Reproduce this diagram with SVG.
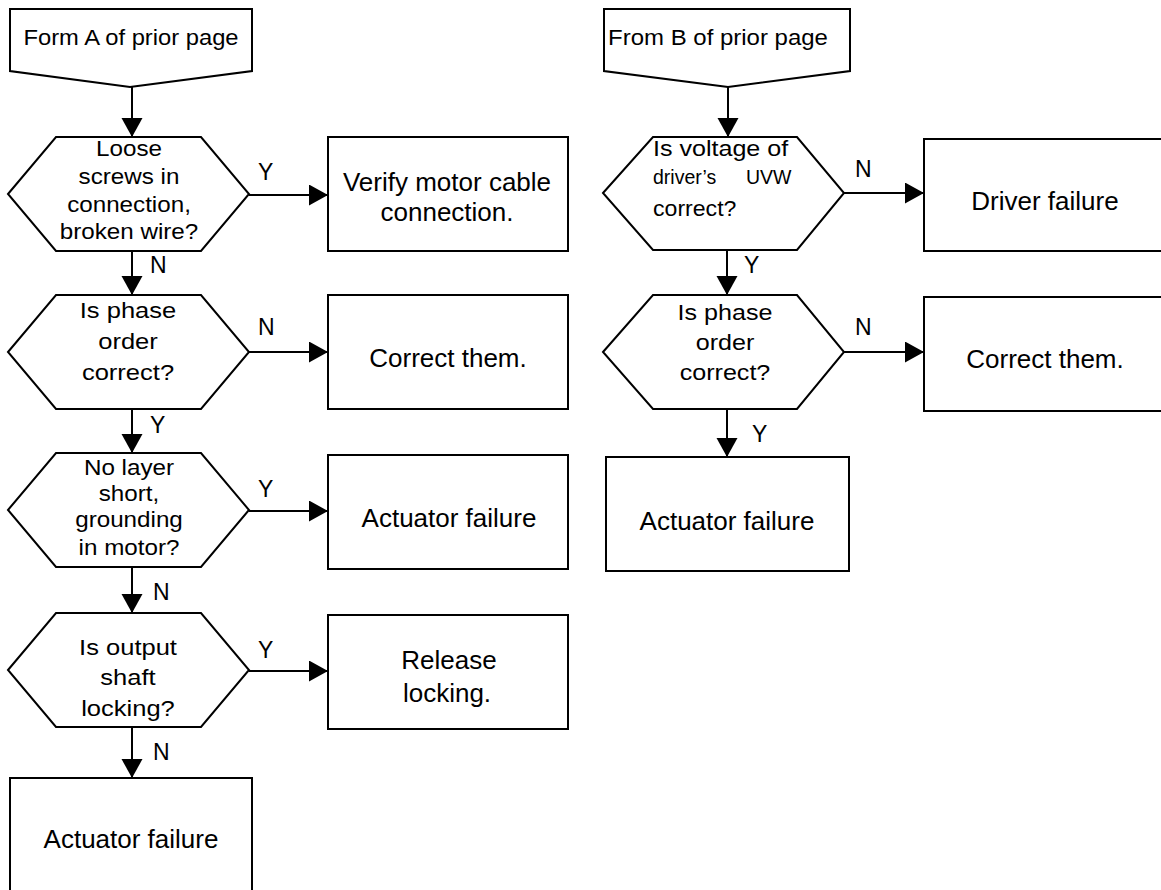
<svg xmlns="http://www.w3.org/2000/svg" width="1161" height="890" viewBox="0 0 1161 890">
<style>
.shape{fill:#fff;stroke:#000;stroke-width:2}
.conn{fill:none;stroke:#000;stroke-width:2}
.t{font-family:"Liberation Sans",Arial,sans-serif;fill:#000}
.h{font-size:22px;text-anchor:middle}
.hl{font-size:22px;text-anchor:start}
.b{font-size:26px;text-anchor:middle}
.lab{font-size:23px}
.sm{font-size:19.5px}
</style>
<defs>
<marker id="arr" markerUnits="userSpaceOnUse" markerWidth="20" markerHeight="22" refX="19" refY="10.5" orient="auto">
<path d="M0,0 L19,10.5 L0,21 z" fill="#000"/>
</marker>
</defs>
<rect width="1161" height="890" fill="#fff"/>

<g id="connectors">
<line class="conn" x1="132" y1="87" x2="132" y2="137" marker-end="url(#arr)"/>
<line class="conn" x1="132" y1="251" x2="132" y2="295" marker-end="url(#arr)"/>
<line class="conn" x1="132" y1="409" x2="132" y2="453" marker-end="url(#arr)"/>
<line class="conn" x1="132" y1="567" x2="132" y2="613" marker-end="url(#arr)"/>
<line class="conn" x1="132" y1="727" x2="132" y2="778" marker-end="url(#arr)"/>
<line class="conn" x1="249" y1="195" x2="328" y2="195" marker-end="url(#arr)"/>
<line class="conn" x1="249" y1="352" x2="328" y2="352" marker-end="url(#arr)"/>
<line class="conn" x1="249" y1="511" x2="328" y2="511" marker-end="url(#arr)"/>
<line class="conn" x1="249" y1="671" x2="328" y2="671" marker-end="url(#arr)"/>
<line class="conn" x1="728" y1="87" x2="728" y2="137" marker-end="url(#arr)"/>
<line class="conn" x1="727" y1="250" x2="727" y2="295" marker-end="url(#arr)"/>
<line class="conn" x1="727" y1="409" x2="727" y2="457" marker-end="url(#arr)"/>
<line class="conn" x1="844" y1="193" x2="924" y2="193" marker-end="url(#arr)"/>
<line class="conn" x1="844" y1="352" x2="924" y2="352" marker-end="url(#arr)"/>
<g class="t lab">
<text x="258" y="180">Y</text>
<text x="258" y="335">N</text>
<text x="258" y="497">Y</text>
<text x="258" y="658">Y</text>
<text x="150" y="273">N</text>
<text x="150" y="433">Y</text>
<text x="153" y="600">N</text>
<text x="153" y="760">N</text>
<text x="855" y="177">N</text>
<text x="855" y="335">N</text>
<text x="744" y="273">Y</text>
<text x="752" y="442">Y</text>
</g>
</g>

<g id="offpageA">
<polygon class="shape" points="10,9 252,9 252,71 130,87 10,71"/>
<text class="t h" transform="translate(131,0) scale(1.08,1)" x="0" y="45">Form A of prior page</text>
</g>

<g id="offpageB">
<polygon class="shape" points="604,9 850,9 850,71 728,87 604,71"/>
<text class="t h" transform="translate(718,0) scale(1.09,1)" x="0" y="45">From B of prior page</text>
</g>

<g id="dec1">
<polygon class="shape" points="8,194 56,137 201,137 249,194 201,251 56,251"/>
<text class="t h" transform="translate(129,0) scale(1.1,1)"><tspan x="0" y="156">Loose</tspan><tspan x="0" y="184">screws in</tspan><tspan x="0" y="212">connection,</tspan><tspan x="0" y="239">broken wire?</tspan></text>
</g>

<g id="box1">
<rect class="shape" x="328" y="137" width="240" height="114"/>
<text class="t b"><tspan x="447" y="191">Verify motor cable</tspan><tspan x="447" y="221">connection.</tspan></text>
</g>

<g id="dec2">
<polygon class="shape" points="8,352 56,295 201,295 249,352 201,409 56,409"/>
<text class="t h" transform="translate(128,0) scale(1.16,1)"><tspan x="0" y="318">Is phase</tspan><tspan x="0" y="349">order</tspan><tspan x="0" y="380">correct?</tspan></text>
</g>

<g id="box2">
<rect class="shape" x="328" y="295" width="240" height="114"/>
<text class="t b" x="448" y="367">Correct them.</text>
</g>

<g id="dec3">
<polygon class="shape" points="8,510 56,453 201,453 249,510 201,567 56,567"/>
<text class="t h" transform="translate(129,0) scale(1.1,1)"><tspan x="0" y="475">No layer</tspan><tspan x="0" y="501">short,</tspan><tspan x="0" y="527">grounding</tspan><tspan x="0" y="555">in motor?</tspan></text>
</g>

<g id="box3">
<rect class="shape" x="328" y="455" width="240" height="114"/>
<text class="t b" x="449" y="527">Actuator failure</text>
</g>

<g id="dec4">
<polygon class="shape" points="8,670 56,613 201,613 249,670 201,727 56,727"/>
<text class="t h" transform="translate(128,0) scale(1.16,1)"><tspan x="0" y="655">Is output</tspan><tspan x="0" y="685">shaft</tspan><tspan x="0" y="716">locking?</tspan></text>
</g>

<g id="box4">
<rect class="shape" x="328" y="615" width="240" height="114"/>
<text class="t b"><tspan x="449" y="669">Release</tspan><tspan x="447" y="702">locking.</tspan></text>
</g>

<g id="box5">
<rect class="shape" x="10" y="778" width="242" height="130"/>
<text class="t b" x="131" y="848">Actuator failure</text>
</g>

<g id="decR1">
<polygon class="shape" points="603,193 653,137 797,137 844,193 797,250 653,250"/>
<text class="t hl" transform="translate(653,0) scale(1.14,1)" x="0" y="156">Is voltage of</text>
<text class="t sm" y="184"><tspan x="653">driver’s</tspan><tspan x="746">UVW</tspan></text>
<text class="t hl" transform="translate(653,0) scale(1.05,1)" x="0" y="216">correct?</text>
</g>

<g id="boxR1">
<rect class="shape" x="924" y="139" width="250" height="112"/>
<text class="t b" x="1045" y="210">Driver failure</text>
</g>

<g id="decR2">
<polygon class="shape" points="603,352 653,295 797,295 844,352 797,409 653,409"/>
<text class="t h" transform="translate(725,0) scale(1.14,1)"><tspan x="0" y="320">Is phase</tspan><tspan x="0" y="350">order</tspan><tspan x="0" y="380">correct?</tspan></text>
</g>

<g id="boxR2">
<rect class="shape" x="924" y="297" width="250" height="114"/>
<text class="t b" x="1045" y="368">Correct them.</text>
</g>

<g id="boxR3">
<rect class="shape" x="606" y="457" width="243" height="114"/>
<text class="t b" x="727" y="530">Actuator failure</text>
</g>
</svg>
